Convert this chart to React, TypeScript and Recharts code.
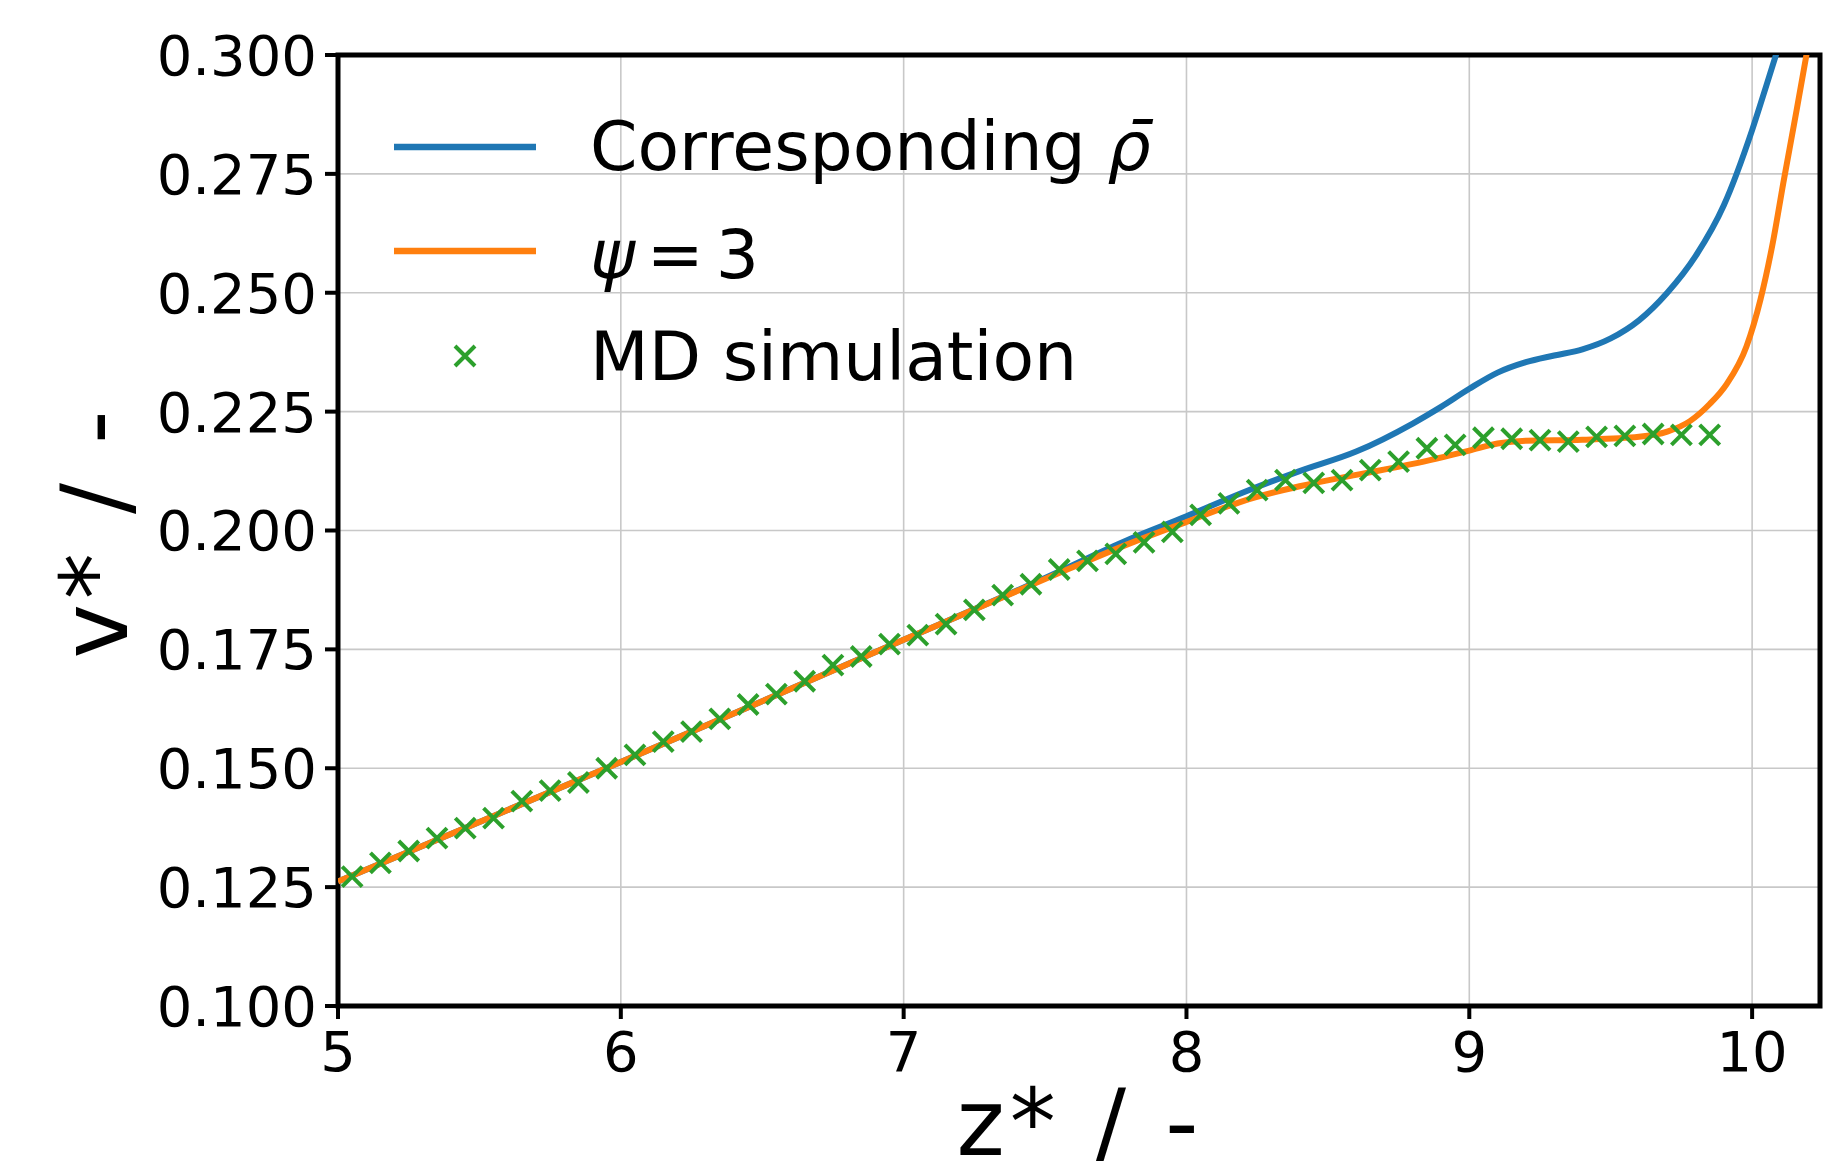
import React from 'react';
import { ComposedChart, Line, Scatter, XAxis, YAxis, CartesianGrid, ReferenceArea, Legend } from 'recharts';

const W = 1839;
const H = 1161;
const FONT = 'DejaVu Sans';

// x ticks / y ticks
const xTicks = [5, 6, 7, 8, 9, 10];
const yTicks = [0.1, 0.125, 0.15, 0.175, 0.2, 0.225, 0.25, 0.275, 0.3];

// MD simulation points
const mdX = [5.05, 5.15, 5.25, 5.35, 5.45, 5.55, 5.65, 5.75, 5.85, 5.95,
  6.05, 6.15, 6.25, 6.35, 6.45, 6.55, 6.65, 6.75, 6.85, 6.95,
  7.05, 7.15, 7.25, 7.35, 7.45, 7.55, 7.65, 7.75, 7.85, 7.95,
  8.05, 8.15, 8.25, 8.35, 8.45, 8.55, 8.65, 8.75, 8.85, 8.95,
  9.05, 9.15, 9.25, 9.35, 9.45, 9.55, 9.65, 9.75, 9.85];
const mdY = [0.1272, 0.1301, 0.1326, 0.1353, 0.1374, 0.1395, 0.1431, 0.1453, 0.1470, 0.1500,
  0.1528, 0.1556, 0.1577, 0.1604, 0.1634, 0.1656, 0.1683, 0.1717, 0.1735, 0.1761,
  0.1780, 0.1803, 0.1833, 0.1864, 0.1887, 0.1918, 0.1936, 0.1951, 0.1975, 0.1997,
  0.2033, 0.2057, 0.2085, 0.2106, 0.2100, 0.2106, 0.2127, 0.2145, 0.2173, 0.2180,
  0.2195, 0.2193, 0.2190, 0.2187, 0.2197, 0.2199, 0.2203, 0.2201, 0.2201];

// Corresponding rho-bar curve
const blueX = [5.0, 5.5, 6.0, 6.5, 7.0, 7.5, 7.8, 8.0, 8.2, 8.4, 8.6, 8.8, 8.9, 9.0, 9.1, 9.2, 9.3, 9.4, 9.5, 9.6, 9.7, 9.8, 9.9, 10.0, 10.05, 10.1];
const blueY = [0.1262, 0.1387, 0.1513, 0.1641, 0.1770, 0.1900, 0.1982, 0.2030, 0.2080, 0.2125, 0.2166, 0.2225, 0.2260, 0.2298, 0.2332, 0.2354, 0.2368, 0.2381, 0.2404, 0.2442, 0.2500, 0.2577, 0.2684, 0.2842, 0.2935, 0.3030];

// psi = 3 curve
const orangeX = [5.0, 5.5, 6.0, 6.5, 7.0, 7.5, 7.8, 8.0, 8.2, 8.4, 8.6, 8.8, 9.0, 9.1, 9.2, 9.4, 9.6, 9.7, 9.78, 9.85, 9.91, 9.98, 10.03, 10.075, 10.11, 10.15, 10.19, 10.22];
const orangeY = [0.1262, 0.1387, 0.1513, 0.1641, 0.1770, 0.1898, 0.1973, 0.2018, 0.2062, 0.2093, 0.2117, 0.2140, 0.2168, 0.2183, 0.2189, 0.2191, 0.2197, 0.2208, 0.2230, 0.2266, 0.2308, 0.2387, 0.2487, 0.2611, 0.2730, 0.2860, 0.2993, 0.3100];

const zip = (xs: number[], ys: number[]) => xs.map((x, i) => ({ x, y: ys[i] }));
const mdData = zip(mdX, mdY);
const blueData = zip(blueX, blueY);
const orangeData = zip(orangeX, orangeY);

const BLUE = '#1f77b4';
const ORANGE = '#ff7f0e';
const GREEN = '#2ca02c';

const Cross = (props: any) => {
  const { cx, cy } = props;
  if (cx == null || cy == null) return null;
  const r = 10;
  return (
    <path
      d={`M${cx - r},${cy - r}L${cx + r},${cy + r}M${cx - r},${cy + r}L${cx + r},${cy - r}`}
      stroke={GREEN}
      strokeWidth={4}
      fill="none"
    />
  );
};

const Overlay = () => (
  <svg width={W} height={H} style={{ position: 'absolute', left: 0, top: 0, overflow: 'visible', pointerEvents: 'none' }}>
    <g fontFamily={FONT} fill="#000">
      <line x1={394} x2={536} y1={147} y2={147} stroke={BLUE} strokeWidth={6.5} />
      <line x1={394} x2={536} y1={251} y2={251} stroke={ORANGE} strokeWidth={6.5} />
      <path d="M455,346L475,366M455,366L475,346" stroke={GREEN} strokeWidth={4} fill="none" />
      <text x={590} y={170} fontSize={68}>Corresponding <tspan fontStyle="italic">ρ̄</tspan></text>
      <text x={590} y={278} fontSize={68}><tspan fontStyle="italic">ψ</tspan><tspan dx={12}>=</tspan><tspan dx={12}>3</tspan></text>
      <text x={590} y={380} fontSize={68}>MD simulation</text>
      <text x={1080} y={1155} fontSize={92} letterSpacing={5} textAnchor="middle">z* / -</text>
      <text x={127} y={532} fontSize={92} letterSpacing={5} textAnchor="middle" transform="rotate(-90, 127, 532)">v* / -</text>
    </g>
  </svg>
);

export default function App() {
  const tickStyle = { fill: '#000', fontSize: 56, fontFamily: FONT };
  return (
    <div style={{ position: 'absolute', left: 0, top: 0, width: W, height: H, background: '#fff' }}>
      <ComposedChart width={W} height={H} margin={{ top: 55, right: 19, bottom: 55, left: 138 }}>
        <CartesianGrid stroke="#c8c8c8" strokeWidth={1.6} />
        <XAxis
          type="number"
          dataKey="x"
          domain={[5, 10.24]}
          ticks={xTicks}
          allowDataOverflow
          height={100}
          tickSize={13}
          tickMargin={12}
          tick={tickStyle}
          tickLine={{ stroke: '#000', strokeWidth: 4 }}
          axisLine={false}
        />
        <YAxis
          type="number"
          dataKey="y"
          domain={[0.1, 0.3]}
          ticks={yTicks}
          allowDataOverflow
          width={200}
          tickSize={13}
          tickMargin={8}
          tick={tickStyle}
          tickLine={{ stroke: '#000', strokeWidth: 4 }}
          axisLine={false}
          tickFormatter={(v: number) => v.toFixed(3)}
        />
        <Line data={blueData} dataKey="y" type="monotone" stroke={BLUE} strokeWidth={6} dot={false} isAnimationActive={false} />
        <Line data={orangeData} dataKey="y" type="monotone" stroke={ORANGE} strokeWidth={6} dot={false} isAnimationActive={false} />
        <Scatter data={mdData} dataKey="y" shape={<Cross />} isAnimationActive={false} />
        <ReferenceArea x1={5} x2={10.24} y1={0.1} y2={0.3} fill="none" stroke="#000" strokeWidth={5} ifOverflow="visible" />
        <Legend layout="vertical" align="center" verticalAlign="middle" content={() => <Overlay />} wrapperStyle={{ position: 'absolute', left: 0, top: 0, width: 0, height: 0 }} />
      </ComposedChart>
    </div>
  );
}
